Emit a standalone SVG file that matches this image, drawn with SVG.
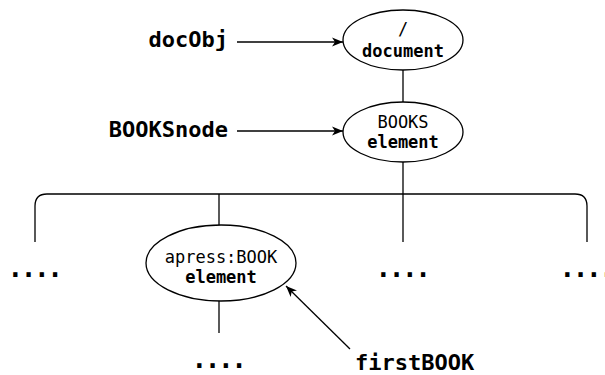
<svg xmlns="http://www.w3.org/2000/svg" width="605" height="375" viewBox="0 0 605 375">
  <style>
    .node { fill: #fff; stroke: #000; stroke-width: 1.3; }
    .wire { fill: none; stroke: #000; stroke-width: 1.3; }
    .t { font-family: "DejaVu Sans Mono", "Liberation Mono", monospace; font-size: 17px; fill: #000; text-anchor: middle; }
    .b { font-weight: bold; }
    .lbl { font-family: "DejaVu Sans Mono", "Liberation Mono", monospace; font-size: 22px; font-weight: bold; fill: #000; }
    .more { font-family: "DejaVu Sans Mono", "Liberation Mono", monospace; font-size: 26px; font-weight: bold; letter-spacing: -2.4px; fill: #000; text-anchor: middle; }
  </style>
  <defs>
    <marker id="arrow" markerWidth="12" markerHeight="10" refX="11" refY="5" orient="auto" markerUnits="userSpaceOnUse">
      <path d="M0,0.5 L11,5 L0,9.5 L3,5 Z" fill="#000"/>
    </marker>
  </defs>

  <rect width="605" height="375" fill="#fff"/>

  <!-- connectors -->
  <g id="connectors">
    <line class="wire" x1="403" y1="70" x2="403" y2="102"/>
    <line class="wire" x1="403" y1="162" x2="403" y2="242"/>
    <path class="wire" d="M35,242 V206 Q35,194 47,194 H575 Q587,194 587,206 V242"/>
    <line class="wire" x1="219" y1="194" x2="219" y2="225"/>
    <line class="wire" x1="219" y1="301" x2="219" y2="333"/>
    <line class="wire" x1="237" y1="42" x2="343" y2="42" marker-end="url(#arrow)"/>
    <line class="wire" x1="237" y1="131" x2="343" y2="131" marker-end="url(#arrow)"/>
    <line class="wire" x1="350" y1="349" x2="286" y2="286" marker-end="url(#arrow)"/>
  </g>

  <g id="document-node">
    <ellipse class="node" cx="403" cy="40" rx="60" ry="30"/>
    <text class="t" x="403" y="35">/</text>
    <text class="t b" x="403" y="57">document</text>
  </g>

  <g id="books-node">
    <ellipse class="node" cx="403" cy="132" rx="60" ry="30"/>
    <text class="t" x="403" y="128">BOOKS</text>
    <text class="t b" x="403" y="148">element</text>
  </g>

  <g id="book-node">
    <ellipse class="node" cx="221" cy="263" rx="75" ry="38"/>
    <text class="t" x="221" y="263">apress:BOOK</text>
    <text class="t b" x="221" y="283">element</text>
  </g>

  <g id="labels">
    <text class="lbl" x="228" y="47" text-anchor="end">docObj</text>
    <text class="lbl" x="228" y="137" text-anchor="end">BOOKSnode</text>
    <text class="lbl" x="355" y="370">firstBOOK</text>
  </g>

  <g id="ellipses-more">
    <text class="more" x="34" y="277">....</text>
    <text class="more" x="402" y="277">....</text>
    <text class="more" x="586" y="277">....</text>
    <text class="more" x="218" y="368">....</text>
  </g>
</svg>
